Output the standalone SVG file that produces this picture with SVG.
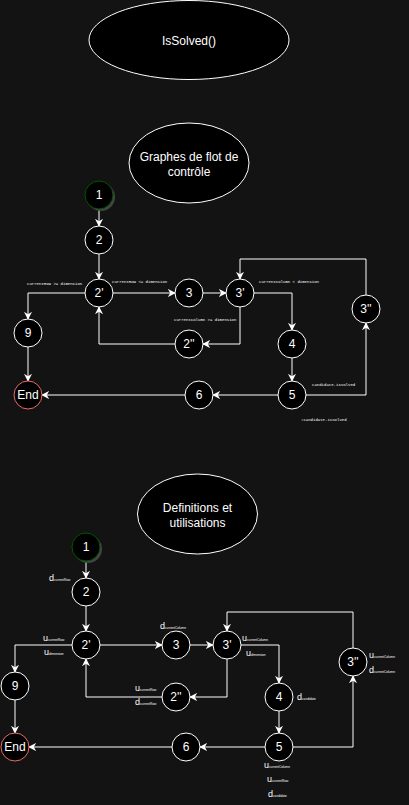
<svg xmlns="http://www.w3.org/2000/svg" width="409" height="805" viewBox="0 0 409 805">
<style>
.bg{fill:#131313}
.title{fill:#000;stroke:#fff;stroke-width:1}
.tt{fill:#fff;font-family:"Liberation Sans",Arial,sans-serif;font-size:12px;text-anchor:middle}
.n{fill:#000;stroke:#fff;stroke-width:1}
.start{fill:#000;stroke:#005700;stroke-width:1}
.shadow{fill:#444}
.end{fill:#000;stroke:#ea6b66;stroke-width:1}
.nt{fill:#fff;font-family:"Liberation Sans",Arial,sans-serif;font-size:12px;text-anchor:middle;dominant-baseline:central}
.e{fill:none;stroke:#fff;stroke-width:1;marker-end:url(#ah)}
.lbl{fill:#fff;font-family:"Liberation Mono","Courier New",monospace;font-size:4px}
.du{fill:#fff;font-family:"Liberation Sans",Arial,sans-serif;font-size:9px}
.sub{font-size:3.2px}
</style>
<defs>
<marker id="ah" viewBox="0 0 10 10" refX="9" refY="5" markerWidth="8" markerHeight="8" orient="auto" markerUnits="userSpaceOnUse">
<path d="M0,0 L10,5 L0,10 L3,5 z" fill="#fff"/>
</marker>
</defs>
<rect class="bg" x="0" y="0" width="409" height="805"/>

<g id="title-issolved"><ellipse class="title" cx="189" cy="40" rx="100" ry="39.5"/><text class="tt" x="189" y="45">IsSolved()</text></g>
<g id="title-cfg"><ellipse class="title" cx="189" cy="163" rx="60" ry="40"/><text class="tt" x="189" y="161">Graphes de flot de</text><text class="tt" x="189" y="176">contrôle</text></g>
<g id="title-du"><ellipse class="title" cx="197.5" cy="514" rx="60" ry="40"/><text class="tt" x="197.5" y="512">Definitions et</text><text class="tt" x="197.5" y="527">utilisations</text></g>

<g id="connectors-top">
<path class="e" d="M99,209 V226"/>
<path class="e" d="M99,254 V279"/>
<path class="e" d="M113,293 H175"/>
<path class="e" d="M203,293 H226"/>
<path class="e" d="M254,293 H292 V330"/>
<path class="e" d="M240,307 V344 H203"/>
<path class="e" d="M175,344 H99 V307"/>
<path class="e" d="M85,293 H28 V319"/>
<path class="e" d="M28,347 V381"/>
<path class="e" d="M292,358 V381"/>
<path class="e" d="M278,395 H213"/>
<path class="e" d="M185,395 H42"/>
<path class="e" d="M306,395 H366 V323"/>
<path class="e" d="M366,295 V259 H240 V279"/>
<text class="lbl" x="27" y="285">currentRow &gt;= dimension</text>
<text class="lbl" x="112" y="283">currentRow &lt;= dimension</text>
<text class="lbl" x="259" y="283">currentColumn &lt; dimension</text>
<text class="lbl" x="174" y="321">currentColumn &gt;= dimension</text>
<text class="lbl" x="312" y="386">candidate.isSolved</text>
<text class="lbl" x="301" y="421">!candidate.isSolved</text>
</g>

<g id="t1"><circle class="shadow" cx="101" cy="197" r="14"/><circle class="start" cx="99" cy="195" r="14"/><text class="nt" x="99" y="195">1</text></g>
<g id="t2"><circle class="n" cx="99" cy="240" r="14"/><text class="nt" x="99" y="240">2</text></g>
<g id="t2p"><circle class="n" cx="99" cy="293" r="14"/><text class="nt" x="99" y="293">2'</text></g>
<g id="t3"><circle class="n" cx="189" cy="293" r="14"/><text class="nt" x="189" y="293">3</text></g>
<g id="t3p"><circle class="n" cx="240" cy="293" r="14"/><text class="nt" x="240" y="293">3'</text></g>
<g id="t3pp"><circle class="n" cx="366" cy="309" r="14"/><text class="nt" x="366" y="309">3''</text></g>
<g id="t9"><circle class="n" cx="28" cy="333" r="14"/><text class="nt" x="28" y="333">9</text></g>
<g id="t2pp"><circle class="n" cx="189" cy="344" r="14"/><text class="nt" x="189" y="344">2''</text></g>
<g id="t4"><circle class="n" cx="292" cy="344" r="14"/><text class="nt" x="292" y="344">4</text></g>
<g id="tEnd"><circle class="end" cx="28" cy="395" r="14"/><text class="nt" x="28" y="395">End</text></g>
<g id="t6"><circle class="n" cx="199" cy="395" r="14"/><text class="nt" x="199" y="395">6</text></g>
<g id="t5"><circle class="n" cx="292" cy="395" r="14"/><text class="nt" x="292" y="395">5</text></g>

<g id="connectors-bottom">
<path class="e" d="M86,561 V578"/>
<path class="e" d="M86,606 V631"/>
<path class="e" d="M100,645 H162"/>
<path class="e" d="M190,645 H213"/>
<path class="e" d="M241,645 H279 V683"/>
<path class="e" d="M227,659 V697 H190"/>
<path class="e" d="M162,697 H86 V659"/>
<path class="e" d="M72,645 H15 V672"/>
<path class="e" d="M15,700 V733"/>
<path class="e" d="M279,711 V733"/>
<path class="e" d="M265,747 H200"/>
<path class="e" d="M172,747 H29"/>
<path class="e" d="M293,747 H353 V676"/>
<path class="e" d="M353,648 V612 H227 V631"/>
<text class="du" x="49" y="581">d<tspan class="sub">currentRow</tspan></text>
<text class="du" x="43" y="641">u<tspan class="sub">currentRow</tspan></text>
<text class="du" x="44" y="655">u<tspan class="sub">dimension</tspan></text>
<text class="du" x="160" y="629">d<tspan class="sub">currentColumn</tspan></text>
<text class="du" x="242" y="641">u<tspan class="sub">currentColumn</tspan></text>
<text class="du" x="246" y="656">u<tspan class="sub">dimension</tspan></text>
<text class="du" x="135" y="691">u<tspan class="sub">currentRow</tspan></text>
<text class="du" x="135" y="705">d<tspan class="sub">currentRow</tspan></text>
<text class="du" x="297" y="700">d<tspan class="sub">candidate</tspan></text>
<text class="du" x="369" y="658">u<tspan class="sub">currentColumn</tspan></text>
<text class="du" x="369" y="673">d<tspan class="sub">currentColumn</tspan></text>
<text class="du" x="264" y="768">u<tspan class="sub">currentColumn</tspan></text>
<text class="du" x="267" y="782">u<tspan class="sub">currentRow</tspan></text>
<text class="du" x="268" y="797">d<tspan class="sub">candidate</tspan></text>
</g>

<g id="b1"><circle class="shadow" cx="88" cy="549" r="14"/><circle class="start" cx="86" cy="547" r="14"/><text class="nt" x="86" y="547">1</text></g>
<g id="b2"><circle class="n" cx="86" cy="592" r="14"/><text class="nt" x="86" y="592">2</text></g>
<g id="b2p"><circle class="n" cx="86" cy="645" r="14"/><text class="nt" x="86" y="645">2'</text></g>
<g id="b3"><circle class="n" cx="176" cy="645" r="14"/><text class="nt" x="176" y="645">3</text></g>
<g id="b3p"><circle class="n" cx="227" cy="645" r="14"/><text class="nt" x="227" y="645">3'</text></g>
<g id="b3pp"><circle class="n" cx="353" cy="662" r="14"/><text class="nt" x="353" y="662">3''</text></g>
<g id="b9"><circle class="n" cx="15" cy="686" r="14"/><text class="nt" x="15" y="686">9</text></g>
<g id="b2pp"><circle class="n" cx="176" cy="697" r="14"/><text class="nt" x="176" y="697">2''</text></g>
<g id="b4"><circle class="n" cx="279" cy="697" r="14"/><text class="nt" x="279" y="697">4</text></g>
<g id="bEnd"><circle class="end" cx="15" cy="747" r="14"/><text class="nt" x="15" y="747">End</text></g>
<g id="b6"><circle class="n" cx="186" cy="747" r="14"/><text class="nt" x="186" y="747">6</text></g>
<g id="b5"><circle class="n" cx="279" cy="747" r="14"/><text class="nt" x="279" y="747">5</text></g>
</svg>
